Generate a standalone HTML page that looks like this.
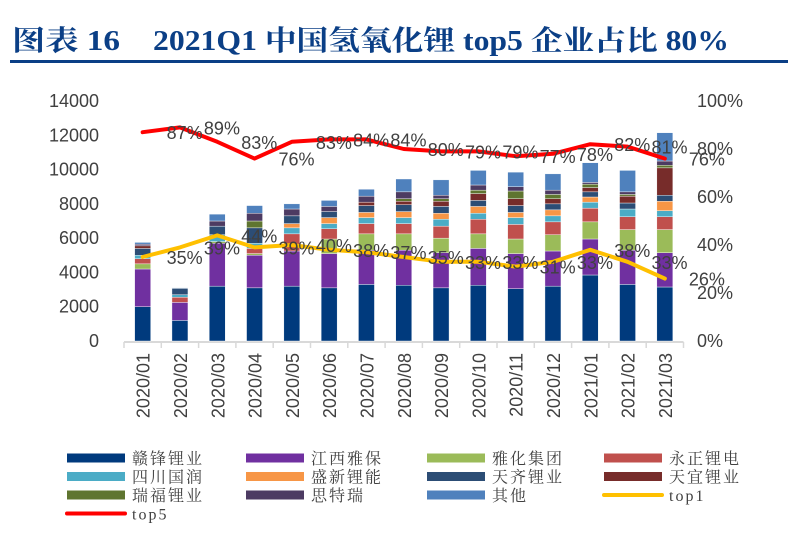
<!DOCTYPE html>
<html><head><meta charset="utf-8">
<style>
body{margin:0;background:#fff;width:788px;height:533px;overflow:hidden}
svg{display:block}
text{font-family:"Liberation Sans","Noto Sans CJK SC",sans-serif}
text.serif{font-family:"Liberation Serif","Noto Serif CJK SC",serif}
</style></head><body>
<svg id="c" width="788" height="533" xmlns="http://www.w3.org/2000/svg">
<g font-size="28" font-weight="bold" fill="#0B3F86">
<text class="serif" x="12" y="50" textLength="108" lengthAdjust="spacingAndGlyphs">图表 16</text>
<text class="serif" x="153" y="50" textLength="576" lengthAdjust="spacingAndGlyphs">2021Q1 中国氢氧化锂 top5 企业占比 80%</text>
</g>
<rect x="10" y="60" width="778" height="3" fill="#0B3F86"/>
</svg>
<script>
const categories=["2020/01","2020/02","2020/03","2020/04","2020/05","2020/06","2020/07","2020/08","2020/09","2020/10","2020/11","2020/12","2021/01","2021/02","2021/03"];
const seriesNames=["赣锋锂业","江西雅保","雅化集团","永正锂电","四川国润","盛新锂能","天齐锂业","天宜锂业","瑞福锂业","思特瑞","其他"];
const seriesColors=["#003A7D","#7030A0","#9BBB59","#C0504D","#4BACC6","#F79646","#2C4D75","#772C2A","#5F7530","#4D3B62","#4F81BD"];
const ganfeng=[2000,1200,3200,3100,3200,3100,3300,3250,3100,3250,3050,3200,3850,3300,3150];
const yabao=[2200,1050,2500,1900,2050,2000,2000,2050,2050,2150,2050,2050,2100,2000,2000];
const yahua=[300,0,100,100,0,850,950,950,850,850,850,950,1000,1200,1350];
const yongzheng=[300,300,0,300,1000,600,600,600,700,850,850,750,800,750,750];
const guorun=[200,150,400,300,350,300,350,350,400,350,400,350,350,450,350];
const shengxin=[0,0,0,0,250,350,300,350,350,400,300,350,300,0,550];
const tianqi=[400,370,500,900,450,350,400,400,400,350,400,350,300,350,350];
const tianyi=[150,0,0,0,0,0,200,200,300,400,400,300,250,400,1600];
const ruifu=[0,0,0,400,0,0,0,150,150,200,450,250,200,100,150];
const siterui=[100,0,300,450,400,300,350,400,200,300,250,250,100,150,250];
const qita=[100,30,400,450,300,350,400,750,900,850,850,950,1150,1250,1650];
const series=[ganfeng,yabao,yahua,yongzheng,guorun,shengxin,tianqi,tianyi,ruifu,siterui,qita];
const top1=[35,39,44,39,40,38,37,35,33,33,31,33,38,33,26];
const top5=[87,89,83,76,83,84,84,80,79,79,77,78,82,81,76];
const leftTicks=[0,2000,4000,6000,8000,10000,12000,14000];
const rightTicks=[0,20,40,60,80,100];

const NS="http://www.w3.org/2000/svg";
const svg=document.getElementById('c');
const X0=124,BAND=37.3,Y0=341,YT=101;
const xC=i=>X0+BAND*(i+0.5);
const yL=v=>Y0-(v/14000)*(Y0-YT);
const yR=p=>Y0-(p/100)*(Y0-YT);
function mk(t,a){const e=document.createElementNS(NS,t);for(const k in a)e.setAttribute(k,a[k]);svg.appendChild(e);return e;}

let ax=mk('line',{x1:X0,x2:X0+BAND*categories.length,y1:Y0+1,y2:Y0+1,stroke:'#D9D9D9','stroke-width':2});


for(let i=0;i<=categories.length;i++){
 let t=mk('line',{x1:X0+BAND*i,x2:X0+BAND*i,y1:Y0+1,y2:Y0+7,stroke:'#D9D9D9','stroke-width':1.5});
 
 
}
leftTicks.forEach(v=>{
 let t=mk('text',{x:99,y:yL(v)+6,'text-anchor':'end','font-size':18,fill:'#404040'});t.textContent=v;
 
 
});
rightTicks.forEach(v=>{
 let t=mk('text',{x:697,y:yR(v)+6,'font-size':18,fill:'#404040'});t.textContent=v+'%';
 
 
});
categories.forEach((c,i)=>{
 let t=mk('text',{x:0,y:0,'text-anchor':'end','font-size':18,fill:'#404040',transform:`translate(${xC(i)+7},353) rotate(-90)`});t.textContent=c;
 
 
});
categories.forEach((c,i)=>{
 let acc=0;
 series.forEach((s,k)=>{
  const v=s[i]; if(!v)return;
  const y1=yL(acc+v),y2=yL(acc); acc+=v;
  let r=mk('rect',{x:xC(i)-8,y:y1,width:16,height:y2-y1,fill:seriesColors[k],stroke:'#fff','stroke-width':0.4});
  
  
 });
});
function line(arr,color,name){
 const pts=arr.map((v,i)=>xC(i)+','+yR(v)).join(' ');
 let p=mk('polyline',{points:pts,fill:'none',stroke:color,'stroke-width':4,'stroke-linejoin':'round','stroke-linecap':'round'});
 
 
 arr.forEach((v,i)=>{
  let t=mk('text',{x:xC(i)+42,y:yR(v)+7,'text-anchor':'middle','font-size':18,fill:'#404040'});t.textContent=v+'%';
  
  
 });
}
line(top5,'#FF0000','top5');
line(top1,'#FFC000','top1');
const legendItems=seriesNames.map((n,k)=>({n,c:seriesColors[k],line:false})).concat([{n:'top1',c:'#FFC000',line:true},{n:'top5',c:'#FF0000',line:true}]);
const colX=[67,246,427,604];
legendItems.forEach((it,j)=>{
 const col=j%4,row=Math.floor(j/4);
 const x=colX[col],y=458+row*18.5;
 let s;
 if(it.line) s=mk('line',{x1:x,x2:x+58,y1:y,y2:y,stroke:it.c,'stroke-width':4,'stroke-linecap':'round'});
 else s=mk('rect',{x:x,y:y-4.5,width:58,height:9,fill:it.c});
 
 
 let t=mk('text',{x:x+65,y:y+6,'font-size':16,fill:'#404040','letter-spacing':2,'class':'serif'});t.textContent=it.n;
 
 
});
</script>
</body></html>
